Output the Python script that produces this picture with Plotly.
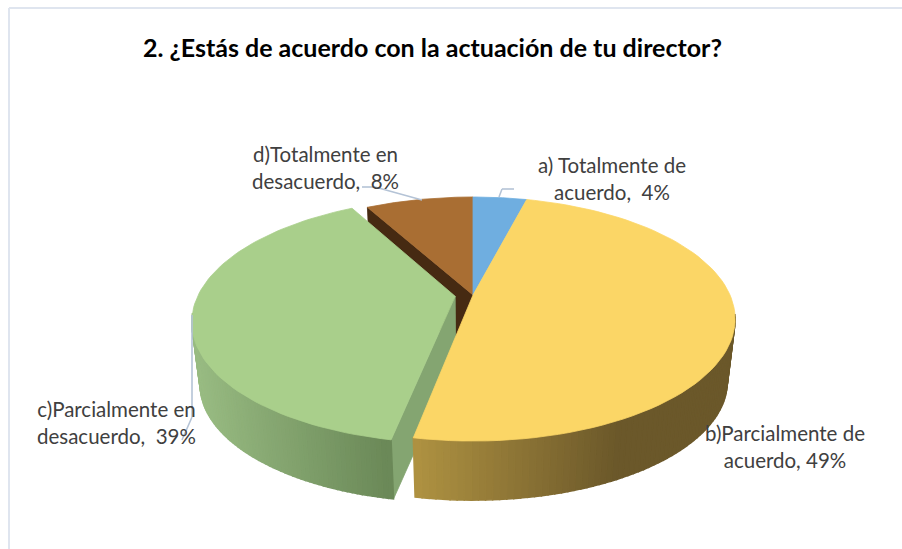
import math
import plotly.graph_objects as go

# --- data ---
categories = ["a) Totalmente de acuerdo", "b)Parcialmente de acuerdo",
              "c)Parcialmente en desacuerdo", "d)Totalmente en desacuerdo"]
values = [4, 49, 39, 8]
label_lines = [["a) Totalmente de", "acuerdo,  4%"],
               ["b)Parcialmente de", "acuerdo, 49%"],
               ["c)Parcialmente en", "desacuerdo,  39%"],
               ["d)Totalmente en", "desacuerdo,  8%"]]
title_text = "2. ¿Estás de acuerdo con la actuación de tu director?"
explode = [0, 0, 0.07, 0]

# --- styles / geometry of the 3D projection ---
top_colors = ["#6FAEE0", "#FBD666", "#A9CF8B", "#A96E33"]
CX, CY, A, B, K = 473, 295, 257, 117.3, 0.1967   # apex and perspective
H, S = 63.5, 0.97                                # pie thickness, bottom scale
W, HT = 902, 549


def top_pt(theta, du=0.0, dv=0.0):
    u, v = math.sin(theta) + du, math.cos(theta) + dv
    w = 1 + K * v
    return CX + A * u / w, CY - B * v / w


def apex(du, dv):
    w = 1 + K * dv
    return CX + A * du / w, CY - B * dv / w


def bot(p):
    return CX + S * (p[0] - CX), CY + H + S * (p[1] - CY)


def mix(c1, c2, t):
    t = max(0, min(1, t))
    return "rgb(%d,%d,%d)" % tuple(c1[i] + (c2[i] - c1[i]) * t for i in range(3))


fig = go.Figure()


def poly(pts, color, width=0.8):
    xs = [p[0] for p in pts] + [pts[0][0]]
    ys = [p[1] for p in pts] + [pts[0][1]]
    fig.add_trace(go.Scatter(x=xs, y=ys, mode="lines", fill="toself", fillcolor=color,
                             line=dict(color=color, width=width),
                             hoverinfo="skip", showlegend=False))


total = sum(values)
angles = []
acc = 0
for v in values:
    a0 = acc / total * 2 * math.pi
    acc += v
    a1 = acc / total * 2 * math.pi
    mid = (a0 + a1) / 2
    angles.append((a0, a1, math.sin(mid), math.cos(mid)))


def arc(i, a0=None, a1=None, n=80):
    s, e, sm, cm = angles[i]
    a0 = s if a0 is None else a0
    a1 = e if a1 is None else a1
    d = explode[i]
    return [top_pt(a0 + (a1 - a0) * j / n, d * sm, d * cm) for j in range(n + 1)]


def top_poly(i):
    d = explode[i]
    c = apex(d * angles[i][2], d * angles[i][3])
    poly([c] + arc(i), top_colors[i])


def strips(i, a0, a1, c_left, c_right, x_left, x_right, n=70):
    pts = arc(i, a0, a1, n)
    for j in range(n):
        p, q = pts[j], pts[j + 1]
        t = ((p[0] + q[0]) / 2 - x_left) / (x_right - x_left)
        poly([p, q, bot(q), bot(p)], mix(c_left, c_right, t), width=1.5)


# brown slice with its dark cut wall
i = 3
a = top_pt(angles[i][0])
c = apex(0, 0)
poly([a, c, bot(c), bot(a)], "#462A12")
top_poly(3)
top_poly(0)

# green slice: cut wall, outer wall, top
i = 2
d = explode[i]
dx, dy = d * angles[i][2], d * angles[i][3]
g_c = apex(dx, dy)
g_a = top_pt(angles[i][0], dx, dy)
poly([g_c, g_a, bot(g_a), bot(g_c)], "#84A571")
strips(2, angles[2][0], math.radians(262), (152, 187, 130), (107, 137, 88), 197, 386)
top_poly(2)

# yellow slice: outer wall, top
strips(1, math.radians(99), angles[1][1], (107, 88, 42), (176, 147, 66), 620, 411)
top_poly(1)

layout_lines = [
    ((499, 197), (502, 189), (514, 189)),
    ((422, 200), (375, 187), (362, 187)),
    ((192, 315), (192, 417), (182, 440)),
]
shapes = []
for pts in layout_lines:
    for p, q in zip(pts[:-1], pts[1:]):
        shapes.append(dict(type="line", x0=p[0], y0=p[1], x1=q[0], y1=q[1], xref="x", yref="y",
                           line=dict(color="#B4C3D6", width=1.6)))
# chart frame
shapes.append(dict(type="line", x0=9, y0=8, x1=9, y1=549, xref="x", yref="y", line=dict(color="#DFE5EF", width=2)))
shapes.append(dict(type="line", x0=9, y0=8, x1=902, y1=8, xref="x", yref="y", line=dict(color="#DFE5EF", width=2)))

label_pos = [(612, 178), (785, 446), (116, 422), (325, 167)]
annotations = [dict(x=x, y=y, xref="x", yref="y", text="<br>".join(t), showarrow=False, align="center",
                    font=dict(family="Lato", size=20.5, color="#404040"), xanchor="center", yanchor="middle")
               for (x, y), t in zip(label_pos, label_lines)]
annotations.append(dict(x=432, y=47, xref="x", yref="y", text="<b>%s</b>" % title_text, showarrow=False,
                        font=dict(family="Lato", size=25, color="#000000"), xanchor="center", yanchor="middle"))

fig.update_layout(width=W, height=HT, margin=dict(l=0, r=0, t=0, b=0), autosize=False,
                  paper_bgcolor="white", plot_bgcolor="white", shapes=shapes, annotations=annotations,
                  xaxis=dict(range=[0, W], visible=False, fixedrange=True),
                  yaxis=dict(range=[HT, 0], visible=False, fixedrange=True),
                  showlegend=False)
fig.write_html("out.html", config={"displayModeBar": False},
               post_script="document.body.style.margin='0';document.documentElement.style.overflow='hidden';")
